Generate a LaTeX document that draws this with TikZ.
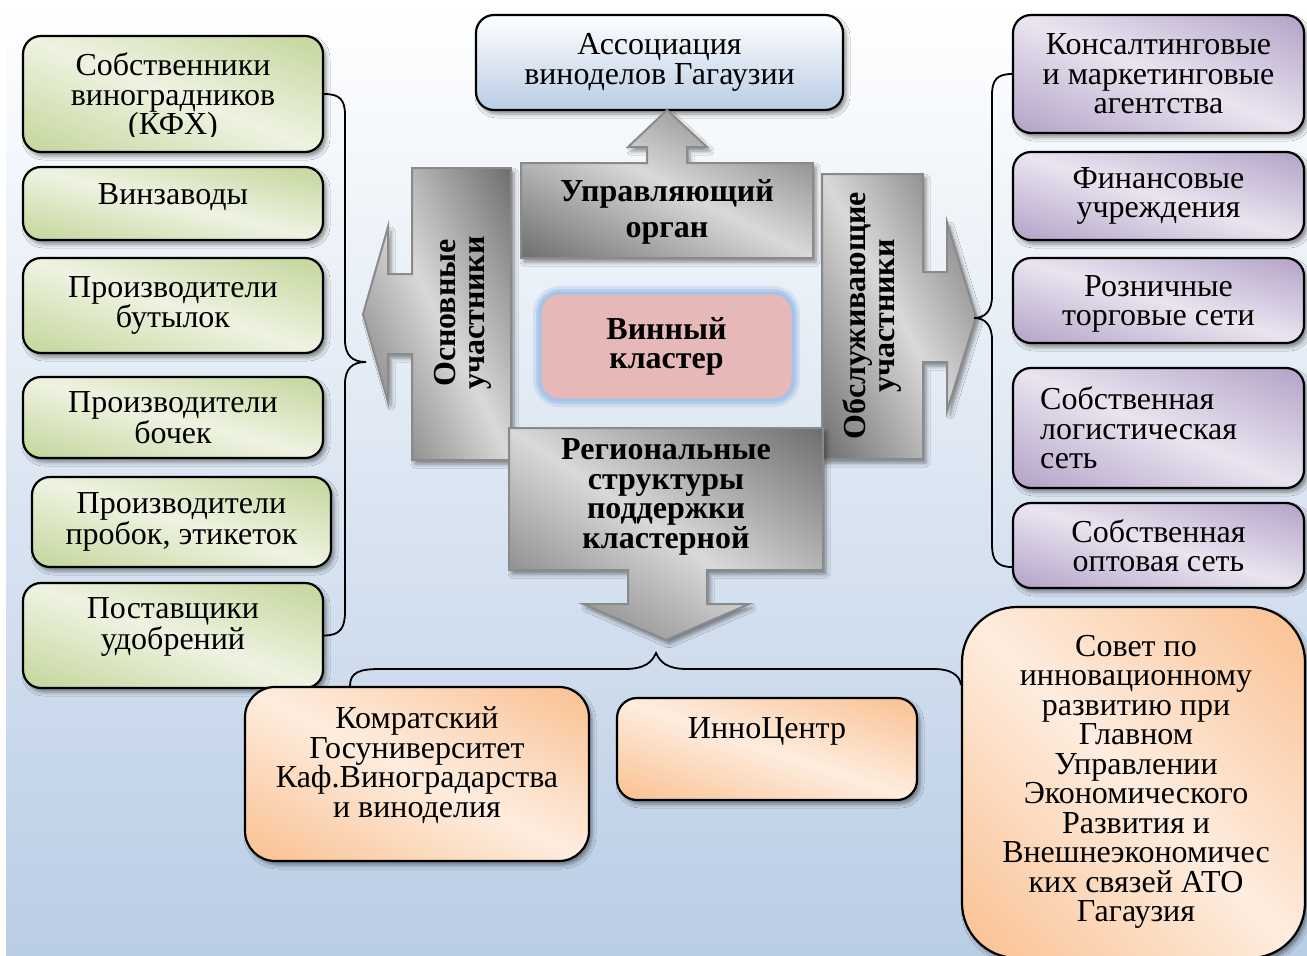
\documentclass[tikz,border=0pt]{standalone}
\usepackage{fontspec}
\setmainfont{Liberation Serif}
\usetikzlibrary{shadows.blur}
\definecolor{bgB}{HTML}{B9CDE5}
\definecolor{gryB}{HTML}{8A8A8A}
\definecolor{blB}{HTML}{B9CDE5}
\definecolor{pinkC}{HTML}{E6B9B8}
\definecolor{glowC}{HTML}{8EB4E3}
% diagonal band shading: light along top-left -> bottom-right diagonal, dark towards the other two corners
% args: name, (dark-light) r, light r, (dark-light) g, light g, (dark-light) b, light b
\newcommand\diagshade[7]{%
  \pgfdeclarefunctionalshading{#1}{\pgfpoint{0bp}{0bp}}{\pgfpoint{100bp}{100bp}}{}{%
    50 sub 25 div exch 50 sub 25 div add abs 2 div dup 1 gt {pop 1} if
    dup #2 mul #3 add exch dup #4 mul #5 add exch #6 mul #7 add}}
\diagshade{grnsh}{-0.170}{0.935}{-0.115}{0.952}{-0.280}{0.885}
\diagshade{pursh}{-0.215}{0.915}{-0.260}{0.895}{-0.160}{0.940}
\diagshade{orsh}{-0.015}{0.995}{-0.175}{0.928}{-0.310}{0.875}
\diagshade{grysh}{-0.420}{0.850}{-0.420}{0.850}{-0.420}{0.850}
\newcommand\rtxt{\fontsize{32}{29.5}\selectfont}
\newcommand\btxt{\fontsize{32}{29.5}\selectfont\bfseries}
\tikzset{
  rt/.style={font=\rtxt, align=center, inner sep=0pt},
  bt/.style={font=\btxt, align=center, inner sep=0pt},
  shdw/.style={blur shadow={shadow xshift=3pt, shadow yshift=-4pt, shadow blur radius=4pt, shadow opacity=45}},
  boxbase/.style={draw=black, line width=2.2pt, rounded corners=18pt, inner sep=0pt, shdw, font=\rtxt, align=center},
  gbox/.style={boxbase, shade, shading=grnsh},
  pbox/.style={boxbase, shade, shading=pursh},
  obox/.style={boxbase, shade, shading=orsh},
  gryarrow/.style={draw=gryB, line width=2pt, shade, shading=grysh, shdw},
  brace/.style={draw=black, line width=1.8pt},
}
\begin{document}
\begin{tikzpicture}[x=1pt,y=-1pt]
\useasboundingbox (0,0) rectangle (1307,956);
\fill[white] (0,0) rectangle (1307,956);
\shade[top color=white, bottom color=bgB] (6,0) rectangle (1307,956);

% left green boxes
\node[gbox, minimum width=300pt, minimum height=116pt] (g1) at (173,94) {};
\begin{scope}
\clip (23,36) rectangle (323,136);
\node[rt] (g1t) at (173,97) {Собственники\\виноградников\\(КФХ)};
\end{scope}
\node[gbox, minimum width=300pt, minimum height=73pt] (g2) at (173,203.5) {};
\node[rt] (g2t) at (173,197) {Винзаводы};
\node[gbox, minimum width=300pt, minimum height=95pt] (g3) at (173,305.5) {Производители\\бутылок};
\node[gbox, minimum width=300pt, minimum height=81pt] (g4) at (173,417.5) {Производители\\бочек};
\node[gbox, minimum width=299pt, minimum height=90pt] (g5) at (181.5,522) {Производители\\пробок, этикеток};
\node[gbox, minimum width=300pt, minimum height=105pt] (g6) at (173,635.5) {};
\node[rt] (g6t) at (173,627) {Поставщики\\удобрений};

% right purple boxes
\node[pbox, minimum width=291pt, minimum height=118pt] (r1) at (1158.5,74) {Консалтинговые\\и маркетинговые\\агентства};
\node[pbox, minimum width=291pt, minimum height=88pt] (r2) at (1158.5,196) {Финансовые\\учреждения};
\node[pbox, minimum width=291pt, minimum height=85pt] (r3) at (1158.5,300.5) {};
\begin{scope}
\clip (1013,258) rectangle (1304,332);
\node[rt] (r3t) at (1158.5,304) {Розничные\\торговые сети};
\end{scope}
\node[pbox, minimum width=291pt, minimum height=120pt] (r4) at (1158.5,428) {};
\node[rt, align=left, anchor=west] (r4t) at (1040,428) {Собственная\\логистическая\\сеть};
\node[pbox, minimum width=291pt, minimum height=85pt] (r5) at (1158.5,545.5) {Собственная\\оптовая сеть};

% association
\node[boxbase, top color=white, bottom color=blB, minimum width=367pt, minimum height=95pt] (assoc) at (659.5,62.5) {Ассоциация\\виноделов Гагаузии};

% gray arrows
\path[gryarrow] (412,168) -- (511,168) -- (511,460) -- (412,460) -- (412,354) -- (388,354) -- (388,402) -- (363,314) -- (388,227) -- (388,274) -- (412,274) -- cycle;
\path[gryarrow] (822,174) -- (923,174) -- (923,272) -- (947,272) -- (947,222) -- (976,317) -- (947,411) -- (947,362) -- (923,362) -- (923,459) -- (822,459) -- cycle;
\path[gryarrow] (521,163) -- (647,163) -- (647,147) -- (628,147) -- (667,110) -- (707,147) -- (687,147) -- (687,163) -- (813,163) -- (813,258) -- (521,258) -- cycle;
\path[gryarrow] (509,428) -- (823,428) -- (823,570) -- (707,570) -- (707,604) -- (749,604) -- (666,640) -- (583,604) -- (628,604) -- (628,570) -- (509,570) -- cycle;

\node[bt, rotate=90] (tL) at (463,313) {Основные\\участники};
\node[bt, rotate=90] (tR) at (872,316) {Обслуживающие\\участники};
\node[bt, font=\fontsize{32}{36}\selectfont\bfseries] (tU) at (667,212) {Управляющий\\орган};
\node[bt] (tD) at (666,497) {Региональные\\структуры\\поддержки\\кластерной};

% wine cluster
\node[fill=pinkC, draw=glowC!80!white, line width=3pt, rounded corners=20pt,
      preaction={draw=glowC, line width=14pt, opacity=0.25, rounded corners=20pt},
      preaction={draw=glowC, line width=8pt, opacity=0.4, rounded corners=20pt},
      minimum width=253pt, minimum height=107pt, bt] (wine) at (666.5,346.5) {Винный\\кластер};

% bottom orange boxes
\node[obox, rounded corners=30pt, minimum width=344pt, minimum height=174pt] (komrat) at (417,774) {};
\node[rt] (komratt) at (417,765) {Комратский\\Госуниверситет\\Каф.Виноградарства\\и виноделия};
\node[obox, rounded corners=20pt, minimum width=300pt, minimum height=102pt] (inno) at (767,749) {};
\node[rt] (innot) at (767,731) {ИнноЦентр};
\node[obox, rounded corners=55pt, minimum width=343pt, minimum height=351pt] (sovet) at (1133.5,782.5) {};
\node[rt] (sovett) at (1136,782) {Совет по\\инновационному\\развитию при\\Главном\\Управлении\\Экономического\\Развития и\\Внешнеэкономичес\\ких связей АТО\\Гагаузия};

% braces
\coordinate (lbt) at (366,362);
\draw[brace] (g1.east) .. controls (340,94) and (345,100) .. (345,115) -- (345,340)
   .. controls (345,355) and (352,362) .. (lbt)
   .. controls (352,362) and (345,369) .. (345,384) -- (345,612)
   .. controls (345,628) and (340,635.5) .. (g6.east);
\coordinate (rbt) at (974,318);
\draw[brace] (r1.west) .. controls (997,74) and (992,80) .. (992,95) -- (992,296)
   .. controls (992,311) and (985,318) .. (rbt)
   .. controls (985,318) and (992,325) .. (992,340) -- (992,545)
   .. controls (992,560) and (997,567) .. ([yshift=-21.5pt]r5.west);
\coordinate (bbt) at (656,653);
\draw[brace] ([xshift=-67pt]komrat.north) .. controls (350,672) and (360,669) .. (380,669) -- (625,669)
   .. controls (645,669) and (652,662) .. (bbt)
   .. controls (660,662) and (667,669) .. (687,669) -- (935,669)
   .. controls (950,669) and (960,675) .. ([yshift=97.5pt]sovet.west);
\end{tikzpicture}
\end{document}
